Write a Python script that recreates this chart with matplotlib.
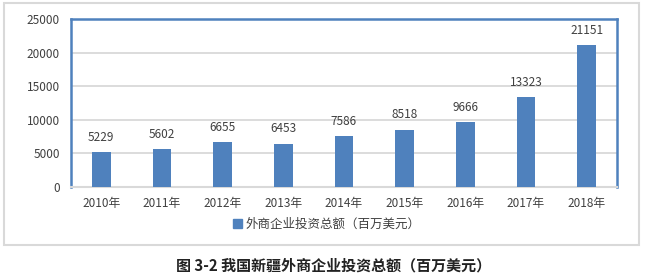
import numpy as np
import matplotlib.pyplot as plt
from matplotlib.patches import Rectangle, Patch

plt.rcParams['font.family'] = ['Noto Sans CJK SC', 'DejaVu Sans']

years = ["2010年", "2011年", "2012年", "2013年", "2014年",
         "2015年", "2016年", "2017年", "2018年"]
investment = [5229, 5602, 6655, 6453, 7586, 8518, 9666, 13323, 21151]
yticks = [0, 5000, 10000, 15000, 20000, 25000]

blue = "#4F81BD"
grid_gray = "#D9D9D9"
text_gray = "#404040"

W, H = 650, 276
fig = plt.figure(figsize=(W / 100, H / 100), dpi=100)

# outer chart frame
fig.patches.append(Rectangle((4 / W, 1 - 245 / H), 635 / W, 242 / H,
                             transform=fig.transFigure, fill=False,
                             edgecolor=grid_gray, linewidth=1.5))

ax = fig.add_axes([71 / W, 1 - 187 / H, 546 / W, 168 / H])
x = np.arange(len(years))
bars = ax.bar(x, investment, width=0.31, color=blue, zorder=3)

for xi, v in zip(x, investment):
    ax.annotate(str(v), (xi, v), xytext=(0, 6), textcoords="offset points",
                ha="center", va="bottom", fontsize=8.5, color=text_gray)

ax.set_xlim(-0.5, len(years) - 0.5)
ax.set_ylim(0, 25000)
ax.set_yticks(yticks)
ax.set_yticklabels([str(t) for t in yticks])
ax.set_xticks(x)
ax.set_xticklabels(years)
ax.tick_params(axis="both", length=0, labelsize=8.5, colors=text_gray)
ax.tick_params(axis="y", pad=8)
ax.tick_params(axis="x", pad=7)
ax.yaxis.grid(True, color=grid_gray, linewidth=1.3, zorder=0)
ax.set_axisbelow(True)

for side in ["top", "left", "right"]:
    ax.spines[side].set_color(blue)
    ax.spines[side].set_linewidth(1.8)
ax.spines["bottom"].set_color(grid_gray)
ax.spines["bottom"].set_linewidth(1.5)

handle = Patch(facecolor=blue, edgecolor=blue)
fig.legend([handle], ["外商企业投资总额（百万美元）"], loc="center",
           bbox_to_anchor=(327 / W, 1 - 224 / H), frameon=False,
           fontsize=9, handlelength=0.7, handleheight=0.7, handletextpad=0.3,
           labelcolor=text_gray)

fig.text(334 / W, 1 - 265 / H, "图 3-2 我国新疆外商企业投资总额（百万美元）",
         ha="center", va="center", fontsize=10.8, fontweight="bold", color="#222222")

fig.savefig("out.png", dpi=100)
